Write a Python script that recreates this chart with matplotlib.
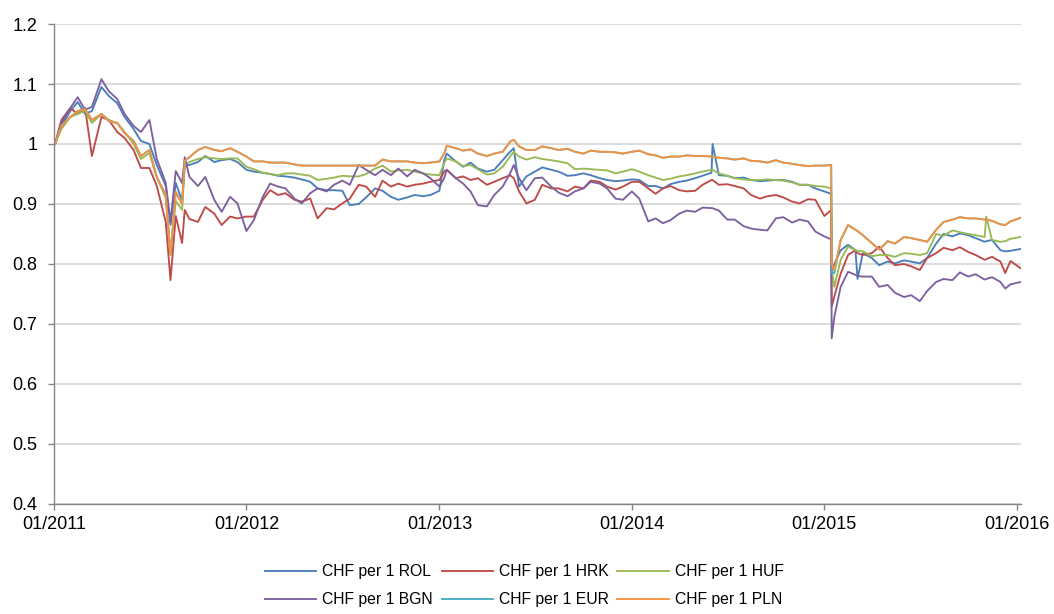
import datetime as dt
import matplotlib
matplotlib.use("Agg")
import matplotlib.pyplot as plt
import matplotlib.dates as mdates
from matplotlib.ticker import FuncFormatter, MultipleLocator

# fechas (aprox. quincenal + dias clave)
dates = [
    "2011-01-03", "2011-01-15", "2011-02-01", "2011-02-15", "2011-03-01", "2011-03-14", "2011-04-01", "2011-04-15", "2011-05-01", "2011-05-15",
    "2011-06-01", "2011-06-15", "2011-07-01", "2011-07-15", "2011-08-01", "2011-08-10", "2011-08-20", "2011-09-01", "2011-09-06", "2011-09-15",
    "2011-10-01", "2011-10-15", "2011-11-01", "2011-11-15", "2011-12-01", "2011-12-15", "2012-01-01", "2012-01-15", "2012-02-01", "2012-02-15",
    "2012-03-01", "2012-03-15", "2012-04-01", "2012-04-15", "2012-05-01", "2012-05-15", "2012-06-01", "2012-06-15", "2012-07-01", "2012-07-15",
    "2012-08-01", "2012-08-15", "2012-09-01", "2012-09-15", "2012-10-01", "2012-10-15", "2012-11-01", "2012-11-15", "2012-12-01", "2012-12-15",
    "2013-01-01", "2013-01-10", "2013-01-15", "2013-02-01", "2013-02-15", "2013-03-01", "2013-03-15", "2013-04-01", "2013-04-15", "2013-05-01",
    "2013-05-15", "2013-05-22", "2013-06-01", "2013-06-15", "2013-07-01", "2013-07-15", "2013-08-01", "2013-08-15", "2013-09-01", "2013-09-15",
    "2013-10-01", "2013-10-15", "2013-11-01", "2013-11-15", "2013-12-01", "2013-12-15", "2014-01-01", "2014-01-15", "2014-02-01", "2014-02-15",
    "2014-03-01", "2014-03-15", "2014-04-01", "2014-04-15", "2014-05-01", "2014-05-15", "2014-06-01", "2014-06-03", "2014-06-15", "2014-07-01",
    "2014-07-15", "2014-08-01", "2014-08-15", "2014-09-01", "2014-09-15", "2014-10-01", "2014-10-15", "2014-11-01", "2014-11-15", "2014-12-01",
    "2014-12-15", "2015-01-01", "2015-01-14", "2015-01-15", "2015-01-20", "2015-02-01", "2015-02-15", "2015-03-01", "2015-03-05", "2015-03-15",
    "2015-04-01", "2015-04-15", "2015-05-01", "2015-05-15", "2015-06-01", "2015-06-15", "2015-07-01", "2015-07-15", "2015-08-01", "2015-08-15",
    "2015-09-01", "2015-09-15", "2015-10-01", "2015-10-15", "2015-11-01", "2015-11-04", "2015-11-15", "2015-12-01", "2015-12-10", "2015-12-20",
    "2016-01-08",
]

rol = [
    1.000, 1.030, 1.055, 1.070, 1.050, 1.055, 1.095, 1.080, 1.068, 1.045,
    1.025, 1.005, 1.000, 0.965, 0.930, 0.865, 0.935, 0.905, 0.965, 0.965,
    0.970, 0.980, 0.970, 0.973, 0.975, 0.970, 0.957, 0.954, 0.952, 0.950,
    0.947, 0.946, 0.944, 0.941, 0.937, 0.926, 0.923, 0.923, 0.922, 0.898,
    0.900, 0.911, 0.926, 0.922, 0.912, 0.907, 0.911, 0.915, 0.913, 0.915,
    0.922, 0.973, 0.984, 0.971, 0.962, 0.969, 0.959, 0.954, 0.957, 0.973,
    0.987, 0.993, 0.929, 0.946, 0.954, 0.961, 0.957, 0.954, 0.947, 0.948,
    0.951, 0.948, 0.943, 0.940, 0.938, 0.939, 0.941, 0.940, 0.930, 0.930,
    0.926, 0.933, 0.937, 0.939, 0.943, 0.947, 0.952, 1.000, 0.948, 0.947,
    0.943, 0.944, 0.940, 0.938, 0.939, 0.940, 0.940, 0.937, 0.932, 0.932,
    0.926, 0.921, 0.917, 0.785, 0.800, 0.823, 0.832, 0.823, 0.775, 0.818,
    0.810, 0.798, 0.804, 0.801, 0.806, 0.804, 0.801, 0.810, 0.834, 0.850,
    0.846, 0.851, 0.848, 0.843, 0.837, 0.838, 0.840, 0.823, 0.821, 0.822,
    0.825,
]

hrk = [
    1.000, 1.040, 1.060, 1.050, 1.060, 0.980, 1.045, 1.040, 1.020, 1.010,
    0.990, 0.960, 0.960, 0.930, 0.870, 0.773, 0.880, 0.835, 0.890, 0.875,
    0.870, 0.895, 0.884, 0.865, 0.879, 0.876, 0.879, 0.879, 0.907, 0.923,
    0.915, 0.918, 0.907, 0.904, 0.909, 0.876, 0.893, 0.891, 0.901, 0.909,
    0.932, 0.929, 0.912, 0.939, 0.929, 0.934, 0.929, 0.932, 0.934, 0.937,
    0.940, 0.954, 0.957, 0.943, 0.946, 0.940, 0.943, 0.932, 0.937, 0.943,
    0.948, 0.943, 0.921, 0.901, 0.907, 0.932, 0.926, 0.926, 0.921, 0.929,
    0.926, 0.939, 0.937, 0.929, 0.924, 0.929, 0.937, 0.937, 0.926, 0.917,
    0.926, 0.930, 0.923, 0.921, 0.922, 0.932, 0.940, 0.940, 0.932, 0.933,
    0.930, 0.926, 0.915, 0.909, 0.913, 0.915, 0.911, 0.904, 0.901, 0.908,
    0.907, 0.880, 0.890, 0.729, 0.746, 0.784, 0.815, 0.823, 0.818, 0.815,
    0.818, 0.829, 0.810, 0.798, 0.800, 0.796, 0.790, 0.810, 0.818, 0.827,
    0.823, 0.828, 0.820, 0.815, 0.807, 0.808, 0.812, 0.804, 0.785, 0.805,
    0.793,
]

huf = [
    1.000, 1.025, 1.045, 1.050, 1.055, 1.035, 1.050, 1.040, 1.035, 1.020,
    1.000, 0.975, 0.985, 0.945, 0.910, 0.820, 0.905, 0.890, 0.965, 0.970,
    0.975, 0.978, 0.976, 0.975, 0.976, 0.976, 0.962, 0.958, 0.952, 0.950,
    0.948, 0.951, 0.951, 0.949, 0.947, 0.940, 0.942, 0.944, 0.947, 0.946,
    0.946, 0.950, 0.959, 0.964, 0.954, 0.956, 0.957, 0.954, 0.951, 0.949,
    0.948, 0.968, 0.976, 0.971, 0.963, 0.965, 0.958, 0.949, 0.951, 0.962,
    0.979, 0.987, 0.979, 0.974, 0.978, 0.975, 0.973, 0.971, 0.968, 0.958,
    0.959, 0.958, 0.957, 0.956, 0.951, 0.954, 0.958, 0.954, 0.948, 0.944,
    0.940, 0.942, 0.946, 0.948, 0.951, 0.954, 0.957, 0.957, 0.951, 0.947,
    0.943, 0.941, 0.940, 0.940, 0.941, 0.940, 0.939, 0.936, 0.932, 0.932,
    0.930, 0.929, 0.926, 0.790, 0.762, 0.807, 0.829, 0.823, 0.822, 0.821,
    0.813, 0.815, 0.815, 0.812, 0.818, 0.817, 0.815, 0.818, 0.850, 0.847,
    0.856, 0.853, 0.850, 0.848, 0.845, 0.879, 0.840, 0.837, 0.838, 0.842,
    0.845,
]

bgn = [
    1.000, 1.035, 1.060, 1.078, 1.057, 1.062, 1.108, 1.088, 1.075, 1.050,
    1.030, 1.020, 1.040, 0.975, 0.935, 0.870, 0.955, 0.935, 0.978, 0.945,
    0.930, 0.945, 0.907, 0.887, 0.912, 0.901, 0.855, 0.873, 0.912, 0.934,
    0.929, 0.926, 0.909, 0.901, 0.918, 0.926, 0.921, 0.932, 0.939, 0.932,
    0.965, 0.957, 0.948, 0.957, 0.948, 0.959, 0.946, 0.957, 0.951, 0.943,
    0.929, 0.943, 0.957, 0.943, 0.934, 0.921, 0.898, 0.896, 0.915, 0.929,
    0.951, 0.965, 0.943, 0.923, 0.943, 0.944, 0.929, 0.919, 0.913, 0.921,
    0.926, 0.937, 0.934, 0.926, 0.909, 0.907, 0.921, 0.909, 0.871, 0.876,
    0.868, 0.873, 0.884, 0.889, 0.887, 0.894, 0.893, 0.893, 0.889, 0.874,
    0.874, 0.863, 0.859, 0.857, 0.856, 0.876, 0.878, 0.869, 0.874, 0.871,
    0.854, 0.846, 0.841, 0.676, 0.712, 0.762, 0.787, 0.782, 0.780, 0.779,
    0.779, 0.762, 0.765, 0.752, 0.745, 0.748, 0.738, 0.755, 0.770, 0.775,
    0.773, 0.786, 0.779, 0.783, 0.774, 0.775, 0.778, 0.770, 0.759, 0.766,
    0.770,
]

# EUR queda casi todo tapada por la linea PLN (se ve solo en la caida de 2015)
eur = [
    1.000, 1.030, 1.045, 1.055, 1.058, 1.040, 1.050, 1.038, 1.035, 1.018,
    1.005, 0.980, 0.990, 0.945, 0.915, 0.815, 0.920, 0.900, 0.972, 0.978,
    0.990, 0.995, 0.990, 0.988, 0.993, 0.987, 0.979, 0.971, 0.971, 0.969,
    0.969, 0.969, 0.966, 0.964, 0.964, 0.964, 0.964, 0.964, 0.964, 0.964,
    0.964, 0.964, 0.964, 0.974, 0.971, 0.971, 0.971, 0.969, 0.968, 0.969,
    0.971, 0.984, 0.997, 0.993, 0.989, 0.991, 0.984, 0.980, 0.984, 0.987,
    1.004, 1.007, 0.996, 0.990, 0.990, 0.996, 0.993, 0.990, 0.992, 0.987,
    0.984, 0.989, 0.987, 0.987, 0.986, 0.984, 0.987, 0.989, 0.983, 0.981,
    0.977, 0.979, 0.979, 0.981, 0.980, 0.980, 0.979, 0.979, 0.977, 0.976,
    0.974, 0.976, 0.972, 0.971, 0.969, 0.973, 0.969, 0.967, 0.965, 0.963,
    0.964, 0.964, 0.965, 0.785, 0.785, 0.840, 0.865, 0.857, 0.855, 0.848,
    0.835, 0.824, 0.838, 0.834, 0.845, 0.843, 0.840, 0.837, 0.857, 0.870,
    0.874, 0.878, 0.876, 0.876, 0.874, 0.874, 0.872, 0.866, 0.865, 0.871,
    0.877,
]

pln = [
    1.000, 1.030, 1.045, 1.055, 1.058, 1.040, 1.050, 1.038, 1.035, 1.018,
    1.005, 0.980, 0.990, 0.945, 0.915, 0.815, 0.920, 0.900, 0.972, 0.978,
    0.990, 0.995, 0.990, 0.988, 0.993, 0.987, 0.979, 0.971, 0.971, 0.969,
    0.969, 0.969, 0.966, 0.964, 0.964, 0.964, 0.964, 0.964, 0.964, 0.964,
    0.964, 0.964, 0.964, 0.974, 0.971, 0.971, 0.971, 0.969, 0.968, 0.969,
    0.971, 0.984, 0.997, 0.993, 0.989, 0.991, 0.984, 0.980, 0.984, 0.987,
    1.004, 1.007, 0.996, 0.990, 0.990, 0.996, 0.993, 0.990, 0.992, 0.987,
    0.984, 0.989, 0.987, 0.987, 0.986, 0.984, 0.987, 0.989, 0.983, 0.981,
    0.977, 0.979, 0.979, 0.981, 0.980, 0.980, 0.979, 0.979, 0.977, 0.976,
    0.974, 0.976, 0.972, 0.971, 0.969, 0.973, 0.969, 0.967, 0.965, 0.963,
    0.964, 0.964, 0.965, 0.800, 0.790, 0.840, 0.865, 0.857, 0.855, 0.848,
    0.835, 0.824, 0.838, 0.834, 0.845, 0.843, 0.840, 0.837, 0.857, 0.870,
    0.874, 0.878, 0.876, 0.876, 0.874, 0.874, 0.872, 0.866, 0.865, 0.871,
    0.877,
]

labels = ["CHF per 1 ROL", "CHF per 1 HRK", "CHF per 1 HUF",
          "CHF per 1 BGN", "CHF per 1 EUR", "CHF per 1 PLN"]
colors = ["#4A7EBB", "#BE4B48", "#98B954", "#7D60A0", "#46AAC5", "#F69240"]
series = [rol, hrk, huf, bgn, eur, pln]

x = [dt.datetime.strptime(d, "%Y-%m-%d") for d in dates]

plt.rcParams["font.family"] = ["Liberation Sans", "DejaVu Sans"]

fig = plt.figure(figsize=(10.54, 6.14), dpi=100)
ax = fig.add_axes([0.0512, 0.1792, 0.9175, 0.7817])

handles = []
for vals, lab, col in zip(series, labels, colors):
    h, = ax.plot(x, vals, color=col, lw=1.35, label=lab)
    handles.append(h)

ax.set_ylim(0.4, 1.2)
ax.yaxis.set_major_locator(MultipleLocator(0.1))
ax.yaxis.set_major_formatter(FuncFormatter(lambda v, p: f"{v:.1f}".rstrip("0").rstrip(".") if abs(v - 1) > 1e-9 else "1"))
ax.set_xlim(dt.datetime(2011, 1, 1), dt.datetime(2016, 1, 9))
ax.xaxis.set_major_locator(mdates.YearLocator())
ax.xaxis.set_major_formatter(mdates.DateFormatter("%m/%Y"))

ax.grid(axis="y", color="#D9D9D9", lw=1.3)
ax.set_axisbelow(True)
for s in ["top", "right"]:
    ax.spines[s].set_visible(False)
for s in ["left", "bottom"]:
    ax.spines[s].set_color("#868686")
    ax.spines[s].set_linewidth(1.0)
ax.tick_params(axis="both", colors="#868686", labelcolor="black", labelsize=13, length=4, width=1.0)
ax.tick_params(axis="y", pad=8)
ax.tick_params(axis="x", pad=5)

# orden por filas como en Excel (ncol=3 llena por columnas)
order = [0, 3, 1, 4, 2, 5]
fig.legend([handles[i] for i in order], [labels[i] for i in order],
           loc="center", bbox_to_anchor=(0.4976, 0.046), ncol=3, frameon=False,
           fontsize=11.3, handlelength=3.25, handletextpad=0.4, columnspacing=0.55,
           labelspacing=0.8)

fig.savefig("out.png", dpi=100)
